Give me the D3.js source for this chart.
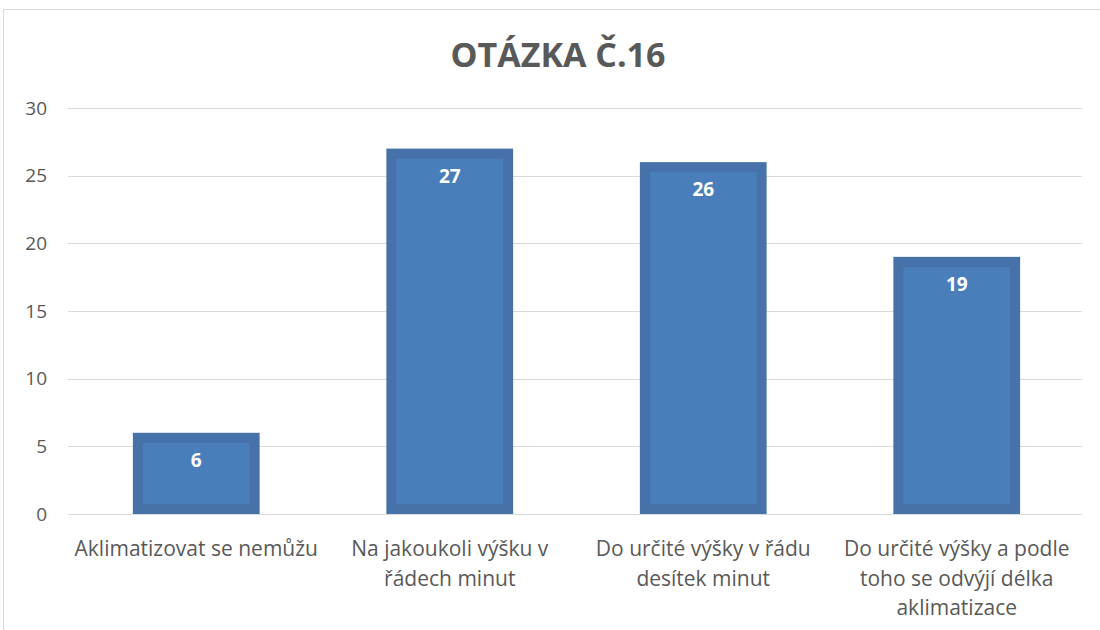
<!DOCTYPE html>
<html><head><meta charset="utf-8">
<script src="https://cdn.jsdelivr.net/npm/d3@7"></script>
<style>body{margin:0;background:#fff}svg{display:block}</style>
</head><body>
<svg id="c" width="1100" height="630"></svg>
<script>
const categories = [
  ["Aklimatizovat se nemůžu"],
  ["Na jakoukoli výšku v", "řádech minut"],
  ["Do určité výšky v řádu", "desítek minut"],
  ["Do určité výšky a podle", "toho se odvýjí délka", "aklimatizace"]
];
const values = [6, 27, 26, 19];
const yTicks = [0, 5, 10, 15, 20, 25, 30];
const title = "OTÁZKA Č.16";

const svg = d3.select("#c");
const font = "'Open Sans', sans-serif";
const textColor = "#595959";

// chart frame
svg.append("rect").attr("x", 3.5).attr("y", 9.5).attr("width", 1200).attr("height", 700)
  .attr("fill", "#fff").attr("stroke", "#d9d9d9").attr("stroke-width", 1);

const m = {left: 68, right: 1082, top: 108, bottom: 514};
const x = d3.scaleBand().domain(d3.range(categories.length)).range([m.left + 1.5, m.right + 1.5]).paddingInner(0.5).paddingOuter(0.25);
const y = d3.scaleLinear().domain([0, 30]).range([m.bottom, m.top]);

// gridlines
svg.append("g").selectAll("line").data(yTicks).join("line")
  .attr("x1", m.left).attr("x2", m.right)
  .attr("y1", d => Math.round(y(d)) + 0.5).attr("y2", d => Math.round(y(d)) + 0.5)
  .attr("stroke", "#d9d9d9").attr("stroke-width", 1);

// y axis labels
const yAxis = d3.axisLeft(y).tickValues(yTicks).tickSize(0).tickPadding(0);
const gy = svg.append("g").attr("transform", `translate(47,0)`).call(yAxis);
gy.select(".domain").remove();
gy.selectAll("text").attr("font-family", font).attr("font-size", 19).attr("fill", textColor);

// bars
const sw = 10;
svg.append("g").selectAll("rect").data(values).join("rect")
  .attr("x", (d, i) => x(i) + sw / 2)
  .attr("y", d => y(d) + sw / 2)
  .attr("width", x.bandwidth() - sw)
  .attr("height", d => y(0) - y(d) - sw)
  .attr("fill", "#4a7ebb").attr("stroke", "#4671a9").attr("stroke-width", sw);

// value labels
svg.append("g").selectAll("text").data(values).join("text")
  .attr("x", (d, i) => x(i) + x.bandwidth() / 2)
  .attr("y", d => y(d) + 34)
  .attr("text-anchor", "middle")
  .attr("font-family", font).attr("font-weight", "bold").attr("font-size", 19)
  .attr("fill", "#fff").text(d => d);

// category labels
const gx = svg.append("g");
categories.forEach((lines, i) => {
  const t = gx.append("text")
    .attr("x", x(i) + x.bandwidth() / 2)
    .attr("y", 556)
    .attr("text-anchor", "middle")
    .attr("font-family", font).attr("font-size", 21).attr("fill", textColor);
  lines.forEach((l, j) => t.append("tspan").attr("x", x(i) + x.bandwidth() / 2).attr("y", 556 + j * 29.5).text(l));
});

// title
svg.append("text").attr("x", 558).attr("y", 67).attr("text-anchor", "middle")
  .attr("font-family", font).attr("font-weight", "bold").attr("font-size", 34)
  .attr("fill", textColor).text(title);
</script>
</body></html>
